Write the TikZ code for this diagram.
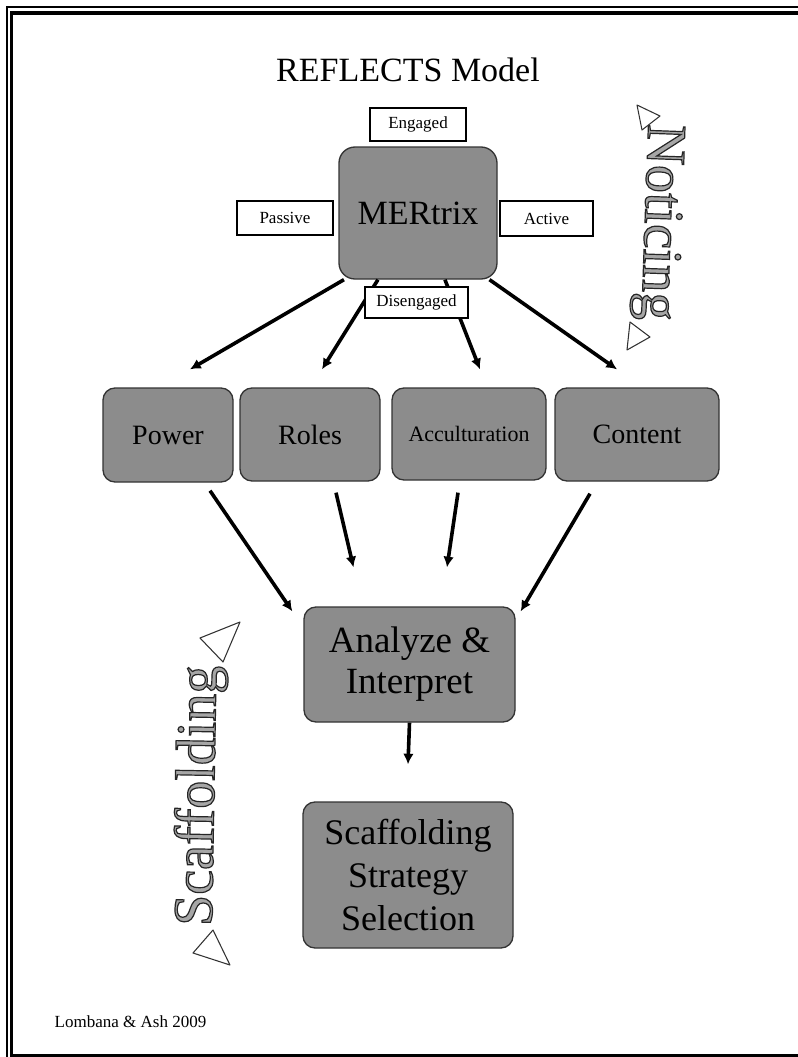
\documentclass[tikz,border=0pt]{standalone}
\usepackage{fontspec}
\setmainfont{Liberation Serif}
\usetikzlibrary{arrows.meta, calc}
% gray letters with a dark outline
\newcommand\outlined[1]{\special{pdf:literal direct 0.15 G 0.9 w 2 Tr}#1\special{pdf:literal direct 0 Tr}}

\begin{document}
\begin{tikzpicture}[x=0.75pt, y=-0.75pt,
  gbox/.style={draw=black!80, line width=1pt, fill=black!45, rounded corners=9pt, align=center, inner sep=0pt},
  tag/.style={draw, line width=1.1pt, fill=white, inner sep=0pt, font=\fontsize{12.75pt}{15pt}\selectfont},
  flow/.style={line width=2.7pt, -{Latex[length=8pt, width=8pt]}},
  wordart/.style={text=black!35, font=\fontsize{42pt}{48pt}\selectfont, inner sep=0pt, anchor=base},
  tri/.style={draw=black!80, line width=0.8pt, fill=white, line join=round}]
  \useasboundingbox (0, 0) rectangle (798, 1057);
  % frame
  \draw[line width=0.8pt] (7, 7) rectangle (815, 1070);
  \draw[line width=2.3pt] (11.5, 13) rectangle (810, 1055.5);
  \node[anchor=base, font=\fontsize{25.5pt}{30pt}\selectfont] (title) at (408, 81) {REFLECTS Model};
  % top box and its labels
  \node[gbox, rounded corners=12pt, minimum width=118.5pt, minimum height=99pt,
        font=\fontsize{25.5pt}{30pt}\selectfont] (mer) at (418, 213) {MERtrix};
  \node[tag, minimum width=72pt, minimum height=24.75pt] (eng) at (418, 124.5) {Engaged};
  \node[tag, minimum width=72pt, minimum height=25.5pt] (pas) at (285, 218) {Passive};
  \node[tag, minimum width=69.75pt, minimum height=26.25pt] (act) at (546.5, 218.5) {Active};
  % middle row
  \node[gbox, minimum width=97.5pt, minimum height=70.5pt, font=\fontsize{21pt}{25pt}\selectfont] (power) at (168, 435) {Power};
  \node[gbox, minimum width=105pt, minimum height=69.75pt, font=\fontsize{21pt}{25pt}\selectfont] (roles) at (310, 434.5) {Roles};
  \node[gbox, minimum width=115.5pt, minimum height=69pt, font=\fontsize{16.5pt}{20pt}\selectfont] (acc) at (469, 434) {Acculturation};
  \node[gbox, minimum width=123pt, minimum height=69.75pt, font=\fontsize{21pt}{25pt}\selectfont] (cont) at (637, 434.5) {Content};
  % lower boxes
  \node[gbox, minimum width=158.25pt, minimum height=86.25pt, font=\fontsize{27.75pt}{30.75pt}\selectfont] (ana) at (409.5, 664.5) {Analyze \&\\Interpret};
  \node[gbox, minimum width=157.5pt, minimum height=109.5pt, font=\fontsize{27pt}{32pt}\selectfont] (scaf) at (408, 875) {Scaffolding\\Strategy\\Selection};
  % arrows
  \draw[flow] (mer.222) -- ($(power.north)+(22, -18)$);
  \draw[flow] (mer.239) -- ($(roles.north)+(12, -18)$);
  \draw[flow] (mer.292) -- ($(acc.north)+(11, -18)$);
  \draw[flow] (mer.317) -- ($(cont.north)+(-20, -18)$);
  \node[tag, minimum width=77.25pt, minimum height=23.25pt] (dis) at (416.5, 302.5) {Disengaged};
  \draw[flow] ($(power.south)+(42, 8)$) -- ($(ana.north west)+(-11, 5)$);
  \draw[flow] ($(roles.south)+(26, 11)$) -- ($(ana.north)+(-56, -39)$);
  \draw[flow] ($(acc.south)+(-11, 12)$) -- ($(ana.north)+(37.5, -39)$);
  \draw[flow] ($(cont.south)+(-47, 12)$) -- ($(ana.north east)+(5, 5)$);
  \draw[flow] (ana.south) -- ($(scaf.north)+(0, -37)$);
  % side words
  \node[wordart, rotate=-92] (notice) at (645, 222) {\outlined{Noticing}};
  \draw[tri] (637, 105) -- (660, 116) -- (642, 130) -- cycle;
  \draw[tri] (630, 322) -- (650, 337) -- (627, 350) -- cycle;
  \node[wordart, rotate=89] (scafword) at (214, 796) {\outlined{Scaffolding}};
  \draw[tri] (200, 638) -- (240, 622) -- (223, 662) -- cycle;
  \draw[tri] (193, 953) -- (213, 930) -- (230, 965) -- cycle;
  \node[anchor=base west, font=\fontsize{12.75pt}{15pt}\selectfont] (credit) at (50, 1027) {Lombana \& Ash 2009};
\end{tikzpicture}
\end{document}
